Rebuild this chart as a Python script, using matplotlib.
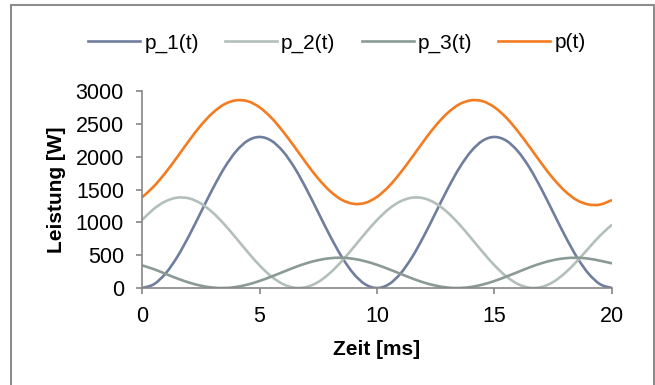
import matplotlib
matplotlib.use('Agg')
import matplotlib.pyplot as plt
from matplotlib.patches import Rectangle, PathPatch
from matplotlib.path import Path
from matplotlib.lines import Line2D

plt.rcParams['font.family'] = ['Liberation Sans', 'DejaVu Sans']

# time axis in ms (step 0.5)
zeit = [i * 0.5 for i in range(41)]

p_1 = [0, 56, 220, 474, 795, 1150, 1505, 1826, 2080, 2244, 2300, 2244, 2080, 1826, 1505, 1150, 795, 474, 220, 56,
       0, 56, 220, 474, 795, 1150, 1505, 1826, 2080, 2244, 2300, 2244, 2080, 1826, 1505, 1150, 795, 474, 220, 56, 0]
p_2 = [1035, 1203, 1320, 1376, 1365, 1288, 1152, 971, 762, 547, 345, 177, 60, 4, 15, 92, 228, 409, 618, 833,
       1035, 1203, 1320, 1376, 1365, 1288, 1152, 971, 762, 547, 345, 177, 60, 4, 15, 92, 228, 405, 605, 800, 965]
p_3 = [345, 287, 216, 145, 83, 36, 7, 0, 16, 53, 107, 173, 244, 315, 377, 424, 453, 460, 444, 407,
       353, 287, 216, 145, 83, 36, 7, 0, 16, 53, 107, 173, 244, 315, 377, 424, 453, 460, 447, 415, 375]
p_sum = [1380, 1546, 1756, 1995, 2243, 2474, 2664, 2797, 2858, 2844, 2752, 2594, 2384, 2145, 1897, 1666, 1476, 1343, 1282, 1296,
         1388, 1546, 1756, 1995, 2243, 2474, 2664, 2797, 2858, 2844, 2752, 2594, 2384, 2145, 1897, 1666, 1476, 1339, 1272, 1271, 1340]

names = ['p_1(t)', 'p_2(t)', 'p_3(t)', 'p(t)']
colors = ['#6F7E9C', '#B3BFBB', '#8A9A96', '#F47B20']


# smoothed line like Excel: cubic bezier segments through the data points
def smooth_path(x, y):
    n = len(x)
    verts = [(x[0], y[0])]
    codes = [Path.MOVETO]
    for i in range(n - 1):
        i0 = max(i - 1, 0)
        i3 = min(i + 2, n - 1)
        c1 = (x[i] + (x[i + 1] - x[i0]) / 6, y[i] + (y[i + 1] - y[i0]) / 6)
        c2 = (x[i + 1] - (x[i3] - x[i]) / 6, y[i + 1] - (y[i3] - y[i]) / 6)
        verts += [c1, c2, (x[i + 1], y[i + 1])]
        codes += [Path.CURVE4] * 3
    return Path(verts, codes)


fig = plt.figure(figsize=(6.55, 3.85), dpi=100)
ax = fig.add_axes([142 / 655, 1 - 288 / 385, 470 / 655, 197 / 385])

handles = []
for data, name, col in zip([p_1, p_2, p_3, p_sum], names, colors):
    ax.add_patch(PathPatch(smooth_path(zeit, data), fill=False, edgecolor=col, lw=1.9,
                           joinstyle='round', capstyle='butt'))
    handles.append(Line2D([], [], color=col, lw=1.9, label=name))

ax.set_xlim(0, 20)
ax.set_ylim(0, 3000)
ax.set_xticks([0, 5, 10, 15, 20])
ax.set_yticks(range(0, 3001, 500))
for s in ['top', 'right']:
    ax.spines[s].set_visible(False)
for s in ['left', 'bottom']:
    ax.spines[s].set_color('#868686')
    ax.spines[s].set_linewidth(1.2)
ax.tick_params(colors='#868686', labelcolor='black', labelsize=15.5, length=4.5, width=1.2, pad=8.5)
ax.set_xlabel('Zeit [ms]', fontsize=15, fontweight='bold', labelpad=9)
ax.set_ylabel('Leistung [W]', fontsize=15, fontweight='bold', labelpad=7)

fig.legend(handles=handles, loc='center', bbox_to_anchor=(337 / 655, 1 - 43 / 385), ncol=4, frameon=False,
           fontsize=15, handlelength=2.5, handletextpad=0.2, columnspacing=1.25)

# outer chart border
fig.patches.append(Rectangle((11 / 655, -0.05), 643 / 655, 1.05 - 5 / 385, transform=fig.transFigure,
                             fill=False, edgecolor='#8C8C8C', lw=1.5))

fig.savefig('out.png', dpi=100)
